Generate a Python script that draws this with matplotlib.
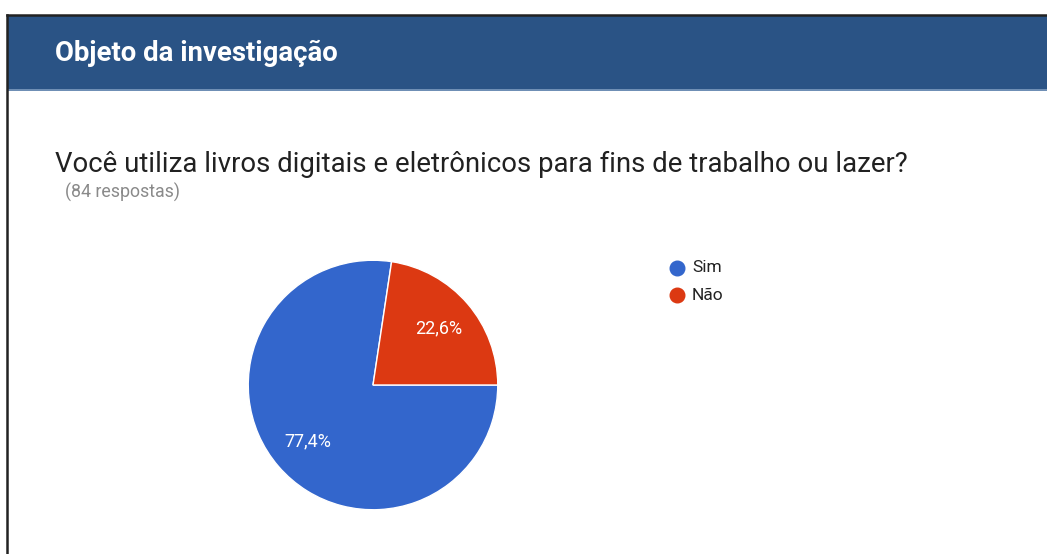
import matplotlib.pyplot as plt
from matplotlib.patches import Rectangle
import numpy as np

W, H = 1047, 554

labels = ['Sim', 'Não']
values = [65, 19]
pct_labels = ['77,4%', '22,6%']
colors = ['#3366cc', '#dc3912']

header = 'Objeto da investigação'
question = 'Você utiliza livros digitais e eletrônicos para fins de trabalho ou lazer?'
n_resp = '(84 respostas)'

plt.rcParams['font.family'] = ['Roboto', 'DejaVu Sans']


def fx(x):
    return x / W


def fy(y):
    # pixel from top -> figure fraction
    return 1 - y / H


fig = plt.figure(figsize=(W / 100, H / 100), dpi=100)
fig.patch.set_facecolor('white')

# banner and the black frame
fig.patches.append(Rectangle((fx(7), fy(90)), fx(W - 7), 75 / H, transform=fig.transFigure,
                             facecolor='#2a5385', edgecolor='none', zorder=0))
fig.patches.append(Rectangle((fx(7), fy(91)), fx(W - 7), 1.5 / H, transform=fig.transFigure,
                             facecolor='#6f8fb5', edgecolor='none', zorder=1))
fig.add_artist(plt.Line2D([fx(7), fx(W)], [fy(15), fy(15)], transform=fig.transFigure,
                          color='#222222', lw=1.8))
fig.add_artist(plt.Line2D([fx(7), fx(7)], [fy(15), fy(H)], transform=fig.transFigure,
                          color='#222222', lw=1.8))

fig.text(fx(55), fy(53), header, color='white', fontsize=19.8, fontweight='bold', va='center')
fig.text(fx(55), fy(164), question, color='#212121', fontsize=19.8, va='center')
fig.text(fx(65), fy(192), n_resp, color='#8a8a8a', fontsize=12.8, va='center')

# pie
cx, cy, r = 373, 385, 126
ax = fig.add_axes([fx(cx - r), fy(cy + r), 2 * r / W, 2 * r / H])
wedges, _ = ax.pie(values, colors=colors, startangle=0, counterclock=False,
                   wedgeprops=dict(edgecolor='white', linewidth=1))
tot = sum(values)
ang = 0
for v, lab in zip(values, pct_labels):
    mid = ang - v / tot * 360 / 2
    ang -= v / tot * 360
    ax.text(0.69 * np.cos(np.radians(mid)), 0.69 * np.sin(np.radians(mid)), lab,
            color='white', fontsize=13, ha='center', va='center')
ax.set_xlim(-1.01, 1.01)
ax.set_ylim(-1.01, 1.01)
ax.set_aspect('equal')
ax.axis('off')

# legend
for i, (lab, c) in enumerate(zip(labels, colors)):
    ly = 268 + i * 27
    fig.add_artist(plt.Line2D([fx(677)], [fy(ly)], transform=fig.transFigure, marker='o',
                              markersize=10.5, color=c, linestyle='none'))
    fig.text(fx(692), fy(ly), lab, color='#222222', fontsize=12.5, va='center')

fig.savefig('out.png', dpi=100)
